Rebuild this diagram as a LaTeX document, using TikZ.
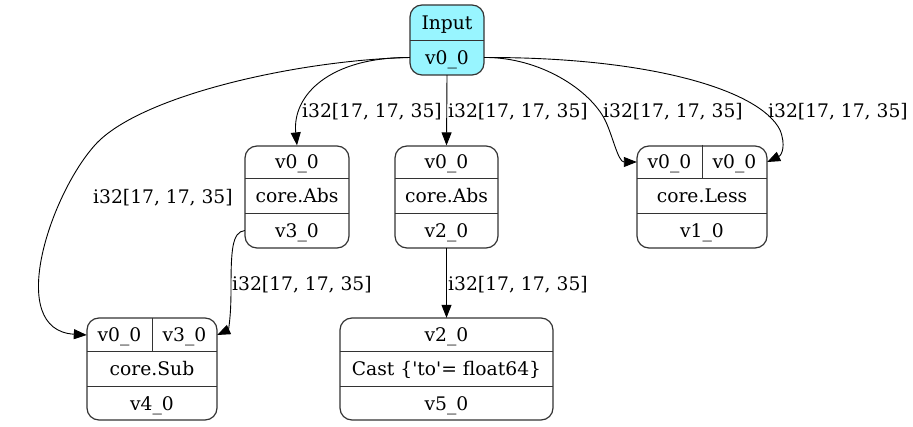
\documentclass[tikz,border=0pt]{standalone}
\usepackage{fontspec}
\setmainfont{DejaVu Serif}
\usetikzlibrary{arrows.meta}
\definecolor{inputfill}{HTML}{98F5FF}
\definecolor{boxline}{HTML}{333333}
\begin{document}
\begin{tikzpicture}[x=1pt,y=-1pt,
  font=\fontsize{18.7}{22}\selectfont,
  rec/.style={draw=boxline, line width=1.2pt, rounded corners=12pt, inner sep=0pt, rectangle},
  cell/.style={inner sep=0pt, rectangle, text height=16pt, text depth=2pt},
  div/.style={draw=boxline, line width=1.2pt},
  edge/.style={draw=black, line width=0.9pt, -{Triangle[length=13pt,width=10pt]}},
  lbl/.style={inner sep=0pt, anchor=base west},
]
\useasboundingbox (0,0) rectangle (913,427);

% ---- Input ----
\node[rec, fill=inputfill, minimum width=74pt, minimum height=70pt] (input) at (447,40) {};
\node[cell, minimum width=74pt, minimum height=35pt] (inputhd) at (447,22.5) {Input};
\node[cell, minimum width=74pt, minimum height=35pt] (inputv) at (447,57.5) {v0\_0};
\draw[div] (inputhd.south west) -- (inputhd.south east);

% ---- core.Abs (v3_0) ----
\node[rec, minimum width=104pt, minimum height=102pt] (abs1) at (297,197) {};
\node[cell, minimum width=104pt, minimum height=34pt] (abs1in) at (297,162) {v0\_0};
\node[cell, minimum width=104pt, minimum height=34pt] (abs1op) at (297,196) {core.Abs};
\node[cell, minimum width=104pt, minimum height=34pt] (abs1out) at (297,230.5) {v3\_0};
\draw[div] (abs1op.north west) -- (abs1op.north east);
\draw[div] (abs1op.south west) -- (abs1op.south east);

% ---- core.Abs (v2_0) ----
\node[rec, minimum width=103pt, minimum height=102pt] (abs2) at (446.5,197) {};
\node[cell, minimum width=103pt, minimum height=34pt] (abs2in) at (446.5,162) {v0\_0};
\node[cell, minimum width=103pt, minimum height=34pt] (abs2op) at (446.5,196) {core.Abs};
\node[cell, minimum width=103pt, minimum height=34pt] (abs2out) at (446.5,230.5) {v2\_0};
\draw[div] (abs2op.north west) -- (abs2op.north east);
\draw[div] (abs2op.south west) -- (abs2op.south east);

% ---- core.Less ----
\node[rec, minimum width=130pt, minimum height=102pt] (less) at (702,197) {};
\node[cell, minimum width=65pt, minimum height=34pt] (lessa) at (669.5,162) {v0\_0};
\node[cell, minimum width=65pt, minimum height=34pt] (lessb) at (734.5,162) {v0\_0};
\node[cell, minimum width=130pt, minimum height=34pt] (lessop) at (702,196) {core.Less};
\node[cell, minimum width=130pt, minimum height=34pt] (lessout) at (702,230.5) {v1\_0};
\draw[div] (lessa.north east) -- (lessa.south east);
\draw[div] (lessop.north west) -- (lessop.north east);
\draw[div] (lessop.south west) -- (lessop.south east);

% ---- core.Sub ----
\node[rec, minimum width=130pt, minimum height=102pt] (sub) at (152,369) {};
\node[cell, minimum width=65pt, minimum height=34pt] (suba) at (119.5,335) {v0\_0};
\node[cell, minimum width=65pt, minimum height=34pt] (subb) at (184.5,335) {v3\_0};
\node[cell, minimum width=130pt, minimum height=34pt] (subop) at (152,369) {core.Sub};
\node[cell, minimum width=130pt, minimum height=34pt] (subout) at (152,403) {v4\_0};
\draw[div] (suba.north east) -- (suba.south east);
\draw[div] (subop.north west) -- (subop.north east);
\draw[div] (subop.south west) -- (subop.south east);

% ---- Cast ----
\node[rec, minimum width=213pt, minimum height=102pt] (cast) at (446.5,369) {};
\node[cell, minimum width=213pt, minimum height=34pt] (castin) at (446.5,335) {v2\_0};
\node[cell, minimum width=213pt, minimum height=34pt] (castop) at (446.5,369) {Cast \{\textquotesingle to\textquotesingle= float64\}};
\node[cell, minimum width=213pt, minimum height=34pt] (castout) at (446.5,403) {v5\_0};
\draw[div] (castop.north west) -- (castop.north east);
\draw[div] (castop.south west) -- (castop.south east);

% ---- connectors ----
\draw[edge] (inputv.west) .. controls (330,57) and (292,95) .. (abs1.north);
\draw[edge] (inputv.south) -- (abs2.north);
\draw[edge] (inputv.east) .. controls (540,57) and (590,90) .. (605,120)
  .. controls (612.5,135) and (618,162) .. (lessa.west);
\draw[edge] (inputv.east) .. controls (650,57) and (760,90) .. (780,130)
  .. controls (786,145) and (782,155) .. (lessb.east);
\draw[edge] (inputv.west) .. controls (300,60) and (140,95) .. (95,145)
  .. controls (50,195) and (5,330) .. (suba.west);
\draw[edge] (abs1out.west) .. controls (232,232) and (231,250) .. (231,290)
  .. controls (231,320) and (228,330) .. (subb.east);
\draw[edge] (abs2out.south) -- (castin.north);

% ---- connector labels ----
\node[lbl] (l1) at (302,117.3) {i32[17, 17, 35]};
\node[lbl] (l2) at (448,117.3) {i32[17, 17, 35]};
\node[lbl] (l3) at (603,117.3) {i32[17, 17, 35]};
\node[lbl] (l4) at (768,117.3) {i32[17, 17, 35]};
\node[lbl] (l5) at (93,203.3) {i32[17, 17, 35]};
\node[lbl] (l6) at (232,290.3) {i32[17, 17, 35]};
\node[lbl] (l7) at (448,290.3) {i32[17, 17, 35]};
\end{tikzpicture}
\end{document}
